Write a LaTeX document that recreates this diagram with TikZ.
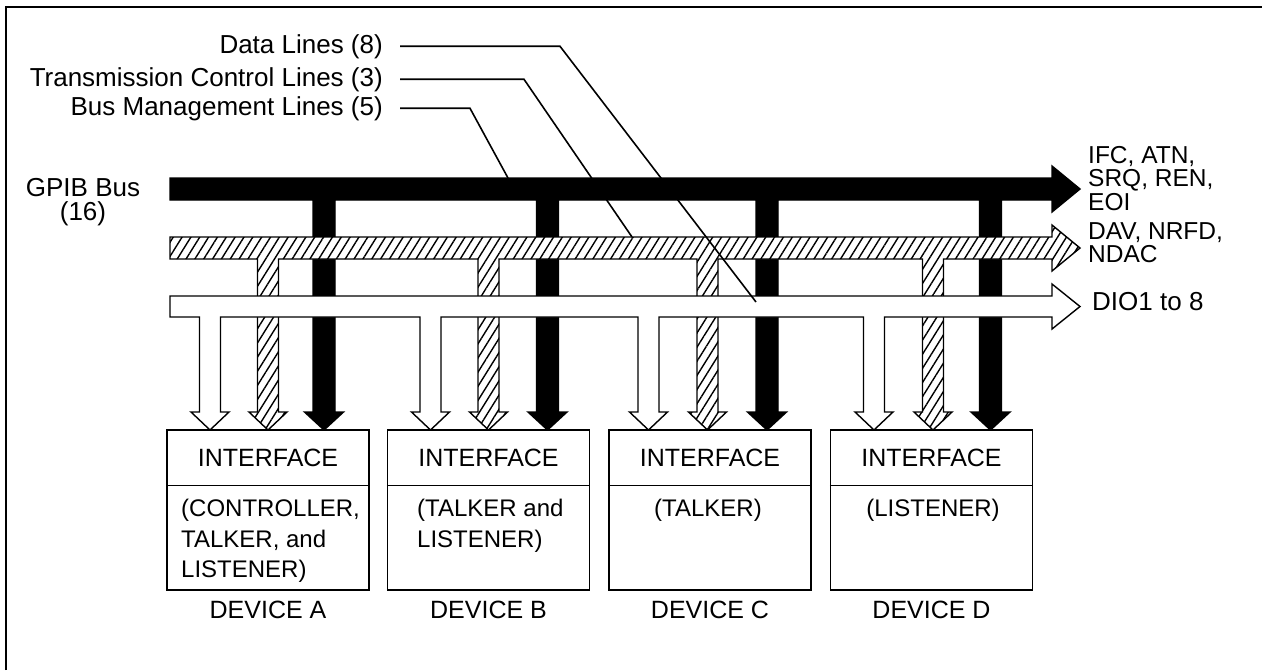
\documentclass[tikz,border=0pt]{standalone}
\usepackage{fontspec}
\setmainfont{Liberation Sans}
\usetikzlibrary{patterns.meta}
% path segment for one downward branch: centre x, half width, top y
\newcommand\busdrop[3]{-- (#1+#2,#3) -- (#1+#2,412) -- (#1+#2+8.5,412) -- (#1,430) -- (#1-#2-8.5,412) -- (#1-#2,412) -- (#1-#2,#3)}
\tikzset{
  lbl/.style={font=\fontsize{26}{24.5}\selectfont, inner sep=0pt},
  rlbl/.style={font=\fontsize{24.5}{23.5}\selectfont, inner sep=0pt},
  dev/.style={font=\fontsize{24}{30.5}\selectfont, inner sep=0pt},
  outline/.style={line width=1.4pt, line join=miter},
  solidbus/.style={outline, draw=black, fill=black},
  hatchbus/.style={outline, draw=black, preaction={fill=white},
     pattern={Lines[angle=58,distance=7.5pt,line width=1.4pt]}},
  whitebus/.style={outline, draw=black, fill=white},
  devbox/.style={draw, line width=1.4pt, minimum width=202pt, minimum height=160pt, inner sep=0pt},
  ptr/.style={line width=1.6pt, line join=miter},
}
\begin{document}
\begin{tikzpicture}[x=1pt,y=-1pt]
\useasboundingbox (0,0) rectangle (1262,670);
% frame
\draw[line width=1.5pt] (6,670) -- (6,7) -- (1262,7);

% management bus (solid)
\filldraw[solidbus] (170,178) -- (1052,178) -- (1052,166) -- (1080,189) -- (1052,212) -- (1052,200)
  \busdrop{990.5}{11}{200} \busdrop{767}{11}{200} \busdrop{547.5}{11}{200} \busdrop{324}{11}{200}
  -- (170,200) -- cycle;
% transmission control bus (hatched)
\path[hatchbus] (170,237) -- (1052,237) -- (1052,225) -- (1080,248) -- (1052,271) -- (1052,259)
  \busdrop{933}{10.5}{259} \busdrop{707.5}{10.5}{259} \busdrop{488.5}{10.5}{259} \busdrop{268}{10.5}{259}
  -- (170,259) -- cycle;
% data bus (white)
\filldraw[whitebus] (170,296) -- (1052,296) -- (1052,284) -- (1080,306.5) -- (1052,329) -- (1052,317)
  \busdrop{874}{10.5}{317} \busdrop{648.5}{10.5}{317} \busdrop{430.5}{10.5}{317} \busdrop{210}{10.5}{317}
  -- (170,317) -- cycle;

% left labels
\node[lbl, align=center, anchor=north] (gpib) at (83,178) {GPIB Bus\\(16)};
\node[lbl, anchor=base east] (dl) at (383,53) {Data Lines (8)};
\node[lbl, anchor=base east] (tl) at (383,86) {Transmission Control Lines (3)};
\node[lbl, anchor=base east] (bl) at (383,115) {Bus Management Lines (5)};

% right labels
\node[rlbl, align=left, anchor=north west] (r1) at (1088,146) {IFC, ATN,\\SRQ, REN,\\EOI};
\node[rlbl, align=left, anchor=north west] (r2) at (1088,222) {DAV, NRFD,\\NDAC};
\node[lbl, anchor=base west] (r3) at (1092,310) {DIO1 to 8};

% pointer lines
\coordinate (dlk) at (560,44);  \coordinate (dle) at (756,302);
\coordinate (tlk) at (524,77);  \coordinate (tle) at (632,237);
\coordinate (blk) at (470,110); \coordinate (ble) at (508,178);
\draw[ptr] ([xshift=17pt]dl.east) -- (dl.east -| dlk) -- (dle);
\draw[ptr] ([xshift=17pt]tl.east) -- (tl.east -| tlk) -- (tle);
\draw[ptr] ([xshift=17pt]bl.east) -- (bl.east -| blk) -- (ble);

% devices
\foreach \n/\cx/\lab in {A/268/DEVICE A, B/488.5/DEVICE B, C/710/DEVICE C, D/931.5/DEVICE D}{
  \node[devbox] (box\n) at (\cx,510) {};
  \draw[line width=1.4pt] ([yshift=-56pt]box\n.north west) -- ([yshift=-56pt]box\n.north east);
  \node[dev, font=\fontsize{25}{30.5}\selectfont] (if\n) at (\cx,458) {INTERFACE};
  \node[dev, font=\fontsize{25}{30.5}\selectfont, anchor=base] (dev\n) at (\cx,618) {\lab};
}
\node[dev, align=left, anchor=north west] (roleA) at (181,499) {(CONTROLLER,\\TALKER, and\\LISTENER)};
\node[dev, align=left, anchor=north west] (roleB) at (417,499) {(TALKER and\\LISTENER)};
\node[dev, anchor=north] (roleC) at (708,499) {(TALKER)};
\node[dev, anchor=north] (roleD) at (933,499) {(LISTENER)};
\end{tikzpicture}
\end{document}
